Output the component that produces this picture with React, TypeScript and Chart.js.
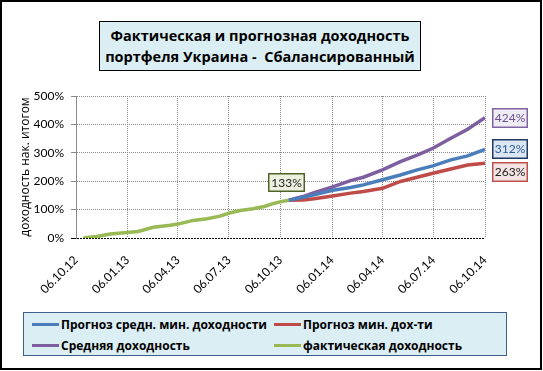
import React, { useEffect, useRef } from "react";
import { Chart, registerables } from "chart.js";

Chart.register(...registerables);

const START_DATE = "2012-10-06";
const xTickDates = ["2012-10-06", "2013-01-06", "2013-04-06", "2013-07-06", "2013-10-06", "2014-01-06", "2014-04-06", "2014-07-06", "2014-10-06"];
const xTickLabels = ["06.10.12", "06.01.13", "06.04.13", "06.07.13", "06.10.13", "06.01.14", "06.04.14", "06.07.14", "06.10.14"];
const yMin = 0;
const yMax = 500;
const yStep = 100;

const titleLines = ["Фактическая и прогнозная доходность", "портфеля Украина -  Сбалансированный"];
const yTitle = "доходность нак. итогом";

// фактическая доходность (%)
const actualDates = ["2012-10-19", "2012-11-12", "2012-12-06", "2013-01-05", "2013-01-25", "2013-02-21", "2013-03-23", "2013-04-06", "2013-05-03", "2013-05-28", "2013-06-20", "2013-07-07", "2013-07-26", "2013-08-18", "2013-09-07", "2013-09-21", "2013-10-07", "2013-10-21"];
const actualValues = [0, 5, 14, 19, 23, 38, 45, 49, 62, 68, 77, 88, 97, 103, 111, 120, 128, 133];

// forecasts (%)
const forecastDates = ["2013-10-21", "2013-11-15", "2013-12-05", "2014-01-07", "2014-02-08", "2014-03-03", "2014-04-06", "2014-05-08", "2014-06-07", "2014-07-05", "2014-08-06", "2014-09-05", "2014-10-06"];
const forecastAvgMinValues = [133, 143, 152, 168, 178, 187, 205, 222, 240, 254, 275, 289, 312];
const forecastMinValues = [133, 134, 138, 148, 158, 164, 175, 199, 214, 228, 243, 257, 263];
const averageValues = [133, 146, 160, 180, 202, 214, 240, 269, 292, 316, 351, 383, 424];

const seriesNames = ["Прогноз средн. мин. доходности", "Прогноз мин. дох-ти", "Средняя доходность", "фактическая доходность"];
const seriesColors = ["#4A7EBB", "#BE4B48", "#7D5FA0", "#98B954"];
const labelFills = ["#DCE6F2", "#F4E4E4", "#EFECF4", "#EBF1DE"];
const labelBorders = ["#1F3864", "#C0504D", "#8064A2", "#4F6228"];
const labelTextColors = ["#2E5C99", "#1a1a1a", "#6A5294", "#1a1a1a"];

const dayOf = (d: string) => Math.round((Date.parse(d) - Date.parse(START_DATE)) / 86400000);
const tickDays = xTickDates.map(dayOf);

const NUM_FONT = "Lato, 'Open Sans', sans-serif";
const TXT_FONT = "'Open Sans', sans-serif";

const valueLabels = {
  id: "valueLabels",
  afterDatasetsDraw(chart: any) {
    const ctx = chart.ctx;
    const area = chart.chartArea;
    const drawBox = (cx: number, top: number, w: number, h: number, i: number, text: string) => {
      const left = Math.round(cx - w / 2);
      const t = Math.round(top);
      ctx.save();
      ctx.fillStyle = labelFills[i];
      ctx.fillRect(left, t, w, h);
      ctx.lineWidth = 1.5;
      ctx.strokeStyle = labelBorders[i];
      ctx.strokeRect(left + 0.75, t + 0.75, w - 1.5, h - 1.5);
      ctx.fillStyle = labelTextColors[i];
      ctx.font = "12px " + NUM_FONT;
      ctx.textAlign = "center";
      ctx.textBaseline = "middle";
      ctx.fillText(text, left + w / 2, t + h / 2 + 0.5);
      ctx.restore();
    };
    // end labels of forecasts
    const h = 20, w = 36, gap = 3;
    const ends = [0, 1, 2].map((i) => {
      const meta = chart.getDatasetMeta(i);
      const pts = meta.data;
      const ds = chart.data.datasets[i].data;
      return { i, y: pts[pts.length - 1].y, text: ds[ds.length - 1].y + "%" };
    }).sort((a, b) => a.y - b.y);
    let prevBottom = -Infinity;
    for (const e of ends) {
      const top = Math.max(e.y - h / 2, prevBottom + gap);
      drawBox(area.right + 7 + w / 2, top, w, h, e.i, e.text);
      prevBottom = top + h;
    }
    // last actual value
    const am = chart.getDatasetMeta(3);
    const last = am.data[am.data.length - 1];
    const ad = chart.data.datasets[3].data;
    drawBox(last.x - 2, last.y - 27, 37, 19, 3, ad[ad.length - 1].y + "%");
  },
};

function ChartCanvas() {
  const ref = useRef<HTMLCanvasElement>(null);
  useEffect(() => {
    const mk = (dates: string[], vals: number[]) => dates.map((d, i) => ({ x: dayOf(d), y: vals[i] }));
    const seriesData = [
      mk(forecastDates, forecastAvgMinValues),
      mk(forecastDates, forecastMinValues),
      mk(forecastDates, averageValues),
      mk(actualDates, actualValues),
    ];
    const chart = new Chart(ref.current!, {
      type: "line",
      data: {
        datasets: seriesData.map((data, i) => ({
          label: seriesNames[i],
          data,
          borderColor: seriesColors[i],
          backgroundColor: seriesColors[i],
          borderWidth: 3.5,
          pointRadius: 0,
          tension: 0,
          fill: false,
        })),
      },
      options: {
        animation: false,
        responsive: false,
        devicePixelRatio: 1,
        layout: { padding: { left: 2, right: 58, top: 96, bottom: 0 } },
        plugins: { legend: { display: false }, title: { display: false }, tooltip: { enabled: false } },
        scales: {
          x: {
            type: "linear",
            min: tickDays[0],
            max: tickDays[tickDays.length - 1],
            afterBuildTicks: (s: any) => {
              s.ticks = tickDays.map((v) => ({ value: v }));
            },
            afterFit: (s: any) => {
              s.height = 133;
            },
            ticks: {
              autoSkip: false,
              minRotation: 45,
              maxRotation: 45,
              padding: 15,
              color: "#000",
              font: { family: NUM_FONT, size: 12 },
              callback: (_v: any, i: number) => xTickLabels[i],
            },
            grid: { color: "#8a8a8a", drawTicks: false, lineWidth: 1 },
            border: { display: false, dash: [1, 1] },
          },
          y: {
            min: yMin,
            max: yMax,
            afterFit: (s: any) => {
              s.width = 74;
            },
            ticks: {
              stepSize: yStep,
              padding: 7,
              color: "#000",
              font: { family: NUM_FONT, size: 12 },
              callback: (v: any) => v + "%",
            },
            grid: {
              color: (c: any) => (c.tick && c.tick.value === 0 ? "#000" : "#8a8a8a"),
              tickColor: (c: any) => (c.tick && c.tick.value === 0 ? "#000" : "#8a8a8a"),
              tickLength: 5,
              lineWidth: 1,
            },
            border: {
              display: true,
              color: "#8a8a8a",
              width: 1,
              dash: (c: any) => (c.tick && c.tick.value === 0 ? [2, 1] : [1, 1]),
            },
            title: {
              display: true,
              text: yTitle,
              color: "#000",
              font: { family: TXT_FONT, size: 12 },
              padding: { top: 16, bottom: 0 },
            },
          },
        },
      },
      plugins: [valueLabels],
    } as any);
    return () => chart.destroy();
  }, []);
  return <canvas ref={ref} width={543} height={371} style={{ position: "absolute", left: 0, top: 0, width: 543, height: 371 }} />;
}

export default function App() {
  useEffect(() => {
    document.body.style.margin = "0";
  }, []);
  const legendItems = [
    { i: 0, left: 8, top: 11 },
    { i: 1, left: 250, top: 11 },
    { i: 2, left: 8, top: 32 },
    { i: 3, left: 250, top: 32 },
  ];
  return (
    <div style={{ position: "relative", width: 543, height: 371, background: "#fff", overflow: "hidden" }}>
      <ChartCanvas />
      <div
        style={{
          position: "absolute",
          left: 99,
          top: 21,
          width: 322,
          height: 50,
          boxSizing: "border-box",
          border: "1px solid #000",
          background: "#DBEEF4",
          display: "flex",
          flexDirection: "column",
          alignItems: "center",
          justifyContent: "center",
          fontFamily: TXT_FONT,
          fontWeight: 700,
          fontSize: 14.5,
          lineHeight: "21px",
          color: "#000",
          whiteSpace: "pre",
        }}
      >
        {titleLines.map((t) => (
          <div key={t}>{t}</div>
        ))}
      </div>
      <div
        style={{
          position: "absolute",
          left: 23,
          top: 312,
          width: 484,
          height: 44,
          boxSizing: "border-box",
          border: "1px solid #3F5F8A",
          background: "#DBEEF4",
        }}
      >
        {legendItems.map((it) => (
          <div key={it.i} style={{ position: "absolute", left: it.left, top: it.top - 10, height: 20, display: "flex", alignItems: "center" }}>
            <div style={{ width: 27, height: 3, background: seriesColors[it.i], marginRight: 2 }} />
            <div style={{ fontFamily: TXT_FONT, fontWeight: 700, fontSize: 12, color: "#000", whiteSpace: "nowrap" }}>{seriesNames[it.i]}</div>
          </div>
        ))}
      </div>
      <div
        style={{
          position: "absolute",
          left: 0,
          top: 0,
          width: 542,
          height: 370,
          boxSizing: "border-box",
          border: "2px solid #000",
          pointerEvents: "none",
        }}
      />
    </div>
  );
}
